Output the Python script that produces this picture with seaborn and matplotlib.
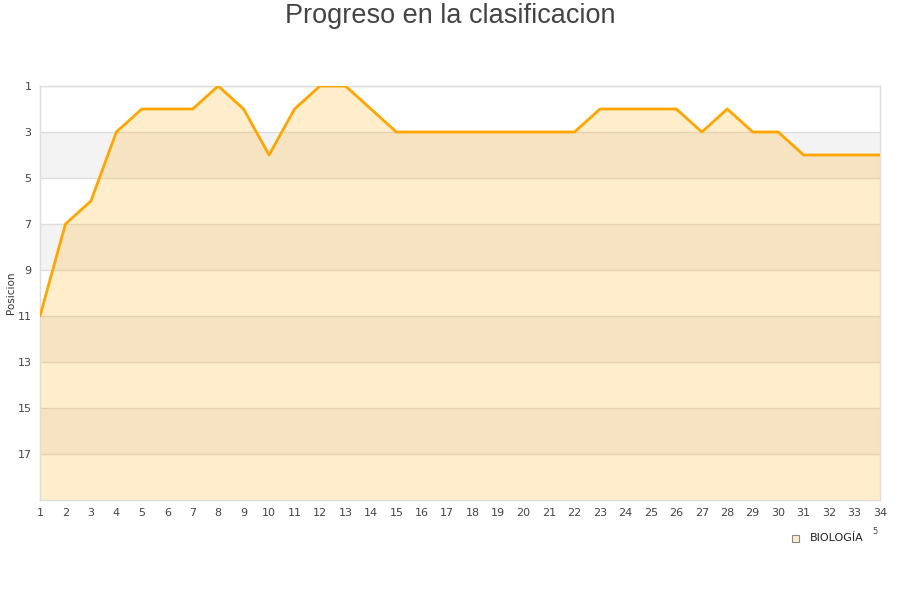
import matplotlib
matplotlib.use("Agg")
import matplotlib.pyplot as plt
import seaborn as sns
import pandas as pd

jornadas = list(range(1, 35))
posiciones = [11, 7, 6, 3, 2, 2, 2, 1, 2, 4, 2, 1, 1, 2, 3, 3, 3, 3, 3, 3, 3, 3,
              2, 2, 2, 2, 3, 2, 3, 3, 4, 4, 4, 4]
y_ticks = [1, 3, 5, 7, 9, 11, 13, 15, 17]
serie = "BIOLOGÍA"
titulo = "Progreso en la clasificacion"
ylabel = "Posicion"

df = pd.DataFrame({"Jornada": jornadas, "Posicion": posiciones})

sns.set_theme(style="white")
plt.rcParams['font.family'] = ['DejaVu Sans']

fig = plt.figure(figsize=(9, 6), dpi=100)
ax = fig.add_axes([40/900, 100/600, 840/900, 414/600])

y_min, y_max = 1, 19
# alternating bands
for i, yt in enumerate(range(1, 19, 2)):
    if i % 2 == 1:
        ax.axhspan(yt, yt + 2, color="#f3f3f3", zorder=0, lw=0)
for yt in y_ticks:
    ax.axhline(yt, color="#dddddd", lw=1, zorder=0.5)

ax.fill_between(df["Jornada"], df["Posicion"], y_max, color="#ffa500", alpha=0.2, lw=0, zorder=1)
sns.lineplot(data=df, x="Jornada", y="Posicion", ax=ax, color="#ffa500", lw=2, zorder=4)

ax.set_xlim(1, 34)
ax.set_ylim(y_max, y_min)
ax.set_xticks(jornadas)
ax.set_yticks(y_ticks)
ax.tick_params(axis="both", length=0, labelsize=8, colors="#444444", pad=6)
ax.set_xlabel("")
ax.set_ylabel(ylabel, fontsize=7.5, color="#333333")
ax.yaxis.set_label_coords(-24/840, 0.5)
for s in ax.spines.values():
    s.set_color("#dddddd")
    s.set_linewidth(1)

fig.text(0.5, 1 - 16/600, titulo, ha="center", va="center", fontsize=19.5,
         color="#444444", family=["Liberation Sans", "DejaVu Sans"])

# legend
fig.patches.append(plt.Rectangle((792/900, 1 - 542/600), 7/900, 7/600, transform=fig.transFigure,
                                 facecolor="#ffedcc", edgecolor="#888888", lw=0.8))
fig.text(810/900, 1 - 538/600, serie, ha="left", va="center", fontsize=8, color="#222222")
fig.text(875/900, 1 - 532/600, "5", ha="center", va="center", fontsize=6, color="#444444")

fig.savefig("out.png", dpi=100)
